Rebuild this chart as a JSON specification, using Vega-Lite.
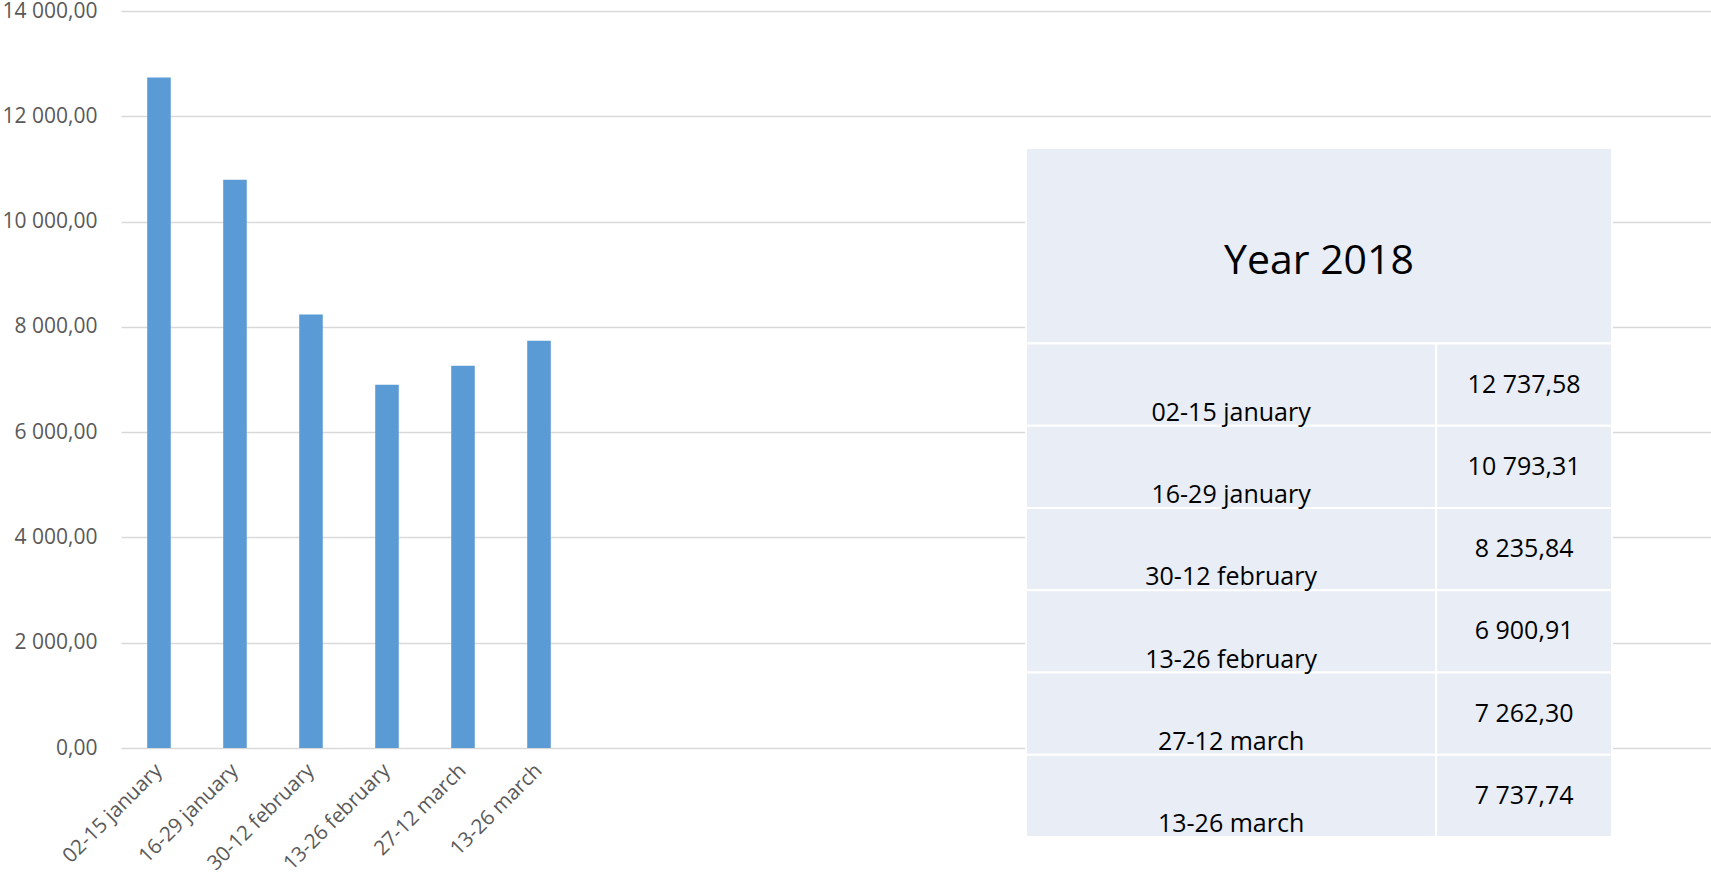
{
  "$schema": "https://vega.github.io/schema/vega-lite/v6.json",
  "width": 1590,
  "height": 737,
  "autosize": {"type": "none"},
  "padding": {"left": 121, "top": 11, "right": 0, "bottom": 131},
  "background": "white",
  "config": {
    "locale": {"number": {"decimal": ",", "thousands": " ", "grouping": [3], "currency": ["", ""]}},
    "view": {"stroke": null},
    "font": "Open Sans"
  },
  "datasets": {
    "periods": [
      {"period": "02-15 january", "amount": 12737.58},
      {"period": "16-29 january", "amount": 10793.31},
      {"period": "30-12 february", "amount": 8235.84},
      {"period": "13-26 february", "amount": 6900.91},
      {"period": "27-12 march", "amount": 7262.30},
      {"period": "13-26 march", "amount": 7737.74}
    ]
  },
  "layer": [
    {
      "data": {"name": "periods"},
      "mark": {"type": "bar", "color": "#5B9BD5"},
      "encoding": {
        "x": {
          "field": "period", "type": "nominal", "sort": null,
          "scale": {
            "domain": ["02-15 january", "16-29 january", "30-12 february", "13-26 february", "27-12 march", "13-26 march",
                       " ", "  ", "   ", "    ", "     ", "      ", "       ", "        ", "         ", "          ",
                       "           ", "            ", "             ", "              ", "               "],
            "paddingInner": 0.69, "paddingOuter": 0.305, "align": 0.565
          },
          "axis": {
            "title": null, "labelAngle": -45, "labelAlign": "right", "labelBaseline": "middle",
            "labelExpr": "trim(datum.label)",
            "labelFont": "Open Sans", "labelFontSize": 20.5, "labelColor": "#595959",
            "ticks": false, "domain": false, "grid": false, "labelPadding": 19
          }
        },
        "y": {
          "field": "amount", "type": "quantitative",
          "scale": {"domain": [0, 14000], "nice": false},
          "axis": {
            "title": null, "values": [0, 2000, 4000, 6000, 8000, 10000, 12000, 14000],
            "format": ",.2f", "labelFont": "Open Sans", "labelFontSize": 21, "labelColor": "#595959",
            "ticks": false, "domain": false, "labelPadding": 24,
            "gridColor": "#D9D9D9", "gridWidth": 1.5
          }
        }
      }
    },
    {
      "layer": [
        {
          "data": {"values": [{"title": "Year 2018"}]},
          "layer": [
            {
              "mark": {"type": "rect", "fill": "#E9EDF5", "stroke": "white", "strokeWidth": 2},
              "encoding": {
                "x": {"datum": 0, "type": "quantitative", "scale": {"domain": [0, 100], "range": [905, 1491]}, "axis": null},
                "x2": {"datum": 100},
                "y": {"field": "title", "type": "nominal", "scale": {"range": [137, 332.5], "paddingInner": 0, "paddingOuter": 0}, "axis": null}
              }
            },
            {
              "mark": {"type": "text", "fontSize": 41, "color": "#000000", "baseline": "alphabetic", "align": "center", "dy": 28},
              "encoding": {
                "x": {"datum": 50, "type": "quantitative", "scale": {"domain": [0, 100], "range": [905, 1491]}, "axis": null},
                "y": {"field": "title", "type": "nominal", "axis": null},
                "text": {"field": "title"}
              }
            }
          ]
        },
        {
          "data": {"name": "periods"},
          "layer": [
            {
              "mark": {"type": "rect", "fill": "#E9EDF5", "stroke": "white", "strokeWidth": 2},
              "encoding": {
                "x": {"datum": 0, "type": "quantitative", "scale": {"domain": [0, 100], "range": [905, 1491]}, "axis": null},
                "x2": {"datum": 70},
                "y": {"field": "period", "type": "nominal", "sort": null, "scale": {"range": [332.5, 826], "paddingInner": 0, "paddingOuter": 0}, "axis": null}
              }
            },
            {
              "mark": {"type": "rect", "fill": "#E9EDF5", "stroke": "white", "strokeWidth": 2},
              "encoding": {
                "x": {"datum": 70, "type": "quantitative", "axis": null},
                "x2": {"datum": 100},
                "y": {"field": "period", "type": "nominal", "sort": null, "axis": null}
              }
            },
            {
              "mark": {"type": "text", "fontSize": 25, "color": "#000000", "baseline": "alphabetic", "align": "center", "dy": -5},
              "encoding": {
                "x": {"datum": 35, "type": "quantitative", "axis": null},
                "y": {"field": "period", "type": "nominal", "sort": null, "bandPosition": 1, "axis": null},
                "text": {"field": "period"}
              }
            },
            {
              "mark": {"type": "text", "fontSize": 25, "color": "#000000", "baseline": "alphabetic", "align": "center", "dy": 8},
              "encoding": {
                "x": {"datum": 85, "type": "quantitative", "axis": null},
                "y": {"field": "period", "type": "nominal", "sort": null, "axis": null},
                "text": {"field": "amount", "type": "quantitative", "format": ",.2f"}
              }
            }
          ]
        }
      ],
      "resolve": {"scale": {"y": "independent"}}
    }
  ],
  "resolve": {"scale": {"x": "independent", "y": "independent"}}
}
